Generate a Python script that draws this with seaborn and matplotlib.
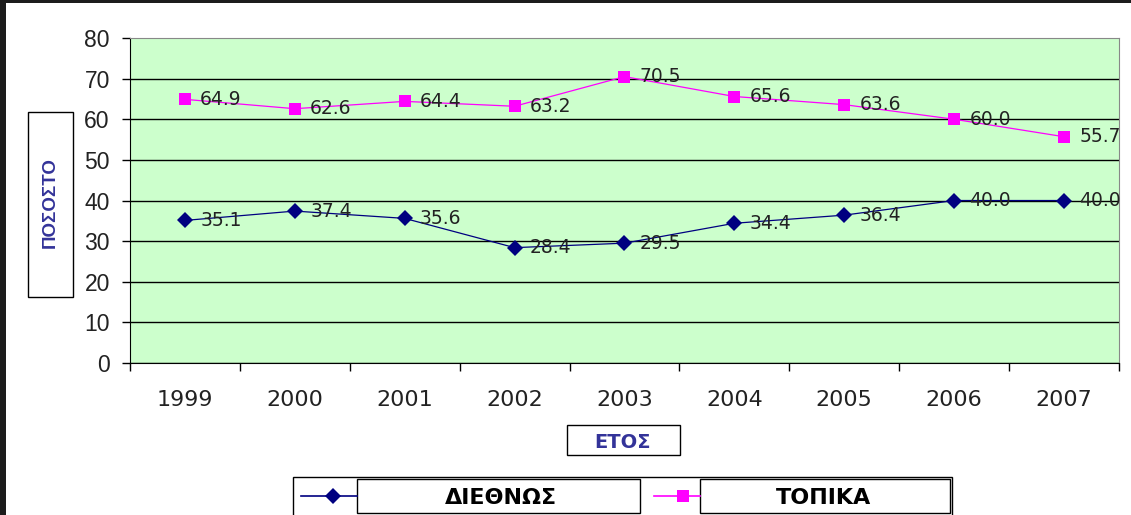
import pandas as pd
import seaborn as sns
import matplotlib.pyplot as plt
from matplotlib.patches import Rectangle
from matplotlib.lines import Line2D

years = ['1999', '2000', '2001', '2002', '2003', '2004', '2005', '2006', '2007']
diethnos = [35.1, 37.4, 35.6, 28.4, 29.5, 34.4, 36.4, 40.0, 40.0]
topika = [64.9, 62.6, 64.4, 63.2, 70.5, 65.6, 63.6, 60.0, 55.7]
yticks = [0, 10, 20, 30, 40, 50, 60, 70, 80]

plt.rcParams['font.family'] = ['Liberation Sans', 'DejaVu Sans']
wide = ['DejaVu Sans']

df = pd.DataFrame({
    'x': list(range(len(years))) * 2,
    'value': diethnos + topika,
    'series': ['ΔΙΕΘΝΩΣ'] * len(years) + ['ΤΟΠΙΚΑ'] * len(years),
})
colors = {'ΔΙΕΘΝΩΣ': '#000080', 'ΤΟΠΙΚΑ': '#ff00ff'}
markers = {'ΔΙΕΘΝΩΣ': 'D', 'ΤΟΠΙΚΑ': 's'}

fig = plt.figure(figsize=(11.31, 5.15), dpi=100)
ax = fig.add_axes([0.1149, 0.2951, 0.8745, 0.6311])
ax.set_facecolor('#ccffcc')

sns.lineplot(data=df, x='x', y='value', hue='series', style='series',
             palette=colors, markers=markers, dashes=False, markersize=8.5,
             markeredgewidth=0, linewidth=0.9, legend=False, ax=ax, zorder=3)

# data labels
for vals in (diethnos, topika):
    for i, v in enumerate(vals):
        ax.annotate(f'{v:.1f}', (i, v), xytext=(11, 0), textcoords='offset points',
                    ha='left', va='center', fontsize=13.5, family=wide,
                    color='#222222', zorder=4)

ax.set_xlim(-0.5, len(years) - 0.5)
ax.set_ylim(0, 80)
ax.set_yticks(yticks)
ax.set_xticks(range(len(years)))
ax.set_xticklabels(years, family=wide)
ax.set_xticks([i - 0.5 for i in range(len(years) + 1)], minor=True)
ax.tick_params(axis='x', which='major', length=0, pad=19.5, labelsize=16, labelcolor='#222222')
ax.tick_params(axis='x', which='minor', length=6, width=1, color='black', direction='out')
ax.tick_params(axis='y', length=6, width=1, pad=8.5, labelsize=16.5, labelcolor='#222222')
ax.set_xlabel('')
ax.set_ylabel('')

ax.grid(axis='y', color='black', linewidth=1)
ax.get_ygridlines()[-1].set_visible(False)
ax.set_axisbelow(True)
ax.spines['left'].set_color('black')
ax.spines['bottom'].set_color('black')
ax.spines['top'].set_color('#888888')
ax.spines['right'].set_color('#888888')

W, H = 1131, 515


def box(x0, y0, x1, y1, lw=1.0):
    fig.patches.append(Rectangle((x0 / W, 1 - y1 / H), (x1 - x0) / W, (y1 - y0) / H,
                                 transform=fig.transFigure, fill=False,
                                 edgecolor='black', linewidth=lw))


# axis titles in boxes
box(28, 112, 73, 297)
fig.text(50 / W, 1 - 203 / H, 'ΠΟΣΟΣΤΟ', rotation=90, ha='center', va='center',
         fontsize=13.5, fontweight='bold', color='#333399')
box(567, 425, 680, 455)
fig.text(622 / W, 1 - 442 / H, 'ΕΤΟΣ', ha='center', va='center', family=wide,
         fontsize=14, fontweight='bold', color='#333399')

# legend
box(293, 477, 952, 520)
box(357, 479, 640, 513)
box(700, 479, 950, 513)
fig.text(501 / W, 1 - 498 / H, 'ΔΙΕΘΝΩΣ', ha='center', va='center', family=wide,
         fontsize=16, fontweight='bold', color='black')
fig.text(824 / W, 1 - 498 / H, 'ΤΟΠΙΚΑ', ha='center', va='center', family=wide,
         fontsize=16, fontweight='bold', color='black')
fig.lines.append(Line2D([301 / W, 357 / W], [1 - 496 / H] * 2, transform=fig.transFigure,
                        color='#000080', linewidth=1.2))
fig.lines.append(Line2D([333 / W], [1 - 496 / H], transform=fig.transFigure,
                        color='#000080', marker='D', markersize=8, markeredgewidth=0))
fig.lines.append(Line2D([654 / W, 700 / W], [1 - 496 / H] * 2, transform=fig.transFigure,
                        color='#ff00ff', linewidth=1.2))
fig.lines.append(Line2D([683 / W], [1 - 496 / H], transform=fig.transFigure,
                        color='#ff00ff', marker='s', markersize=8, markeredgewidth=0))

# screenshot frame edges
fig.patches.append(Rectangle((0, 0), 6 / W, 1, transform=fig.transFigure,
                             facecolor='#1c1c1c', edgecolor='none'))
fig.patches.append(Rectangle((0, 1 - 3 / H), 1, 3 / H, transform=fig.transFigure,
                             facecolor='#1c1c1c', edgecolor='none'))

fig.savefig('out.png', dpi=100)
